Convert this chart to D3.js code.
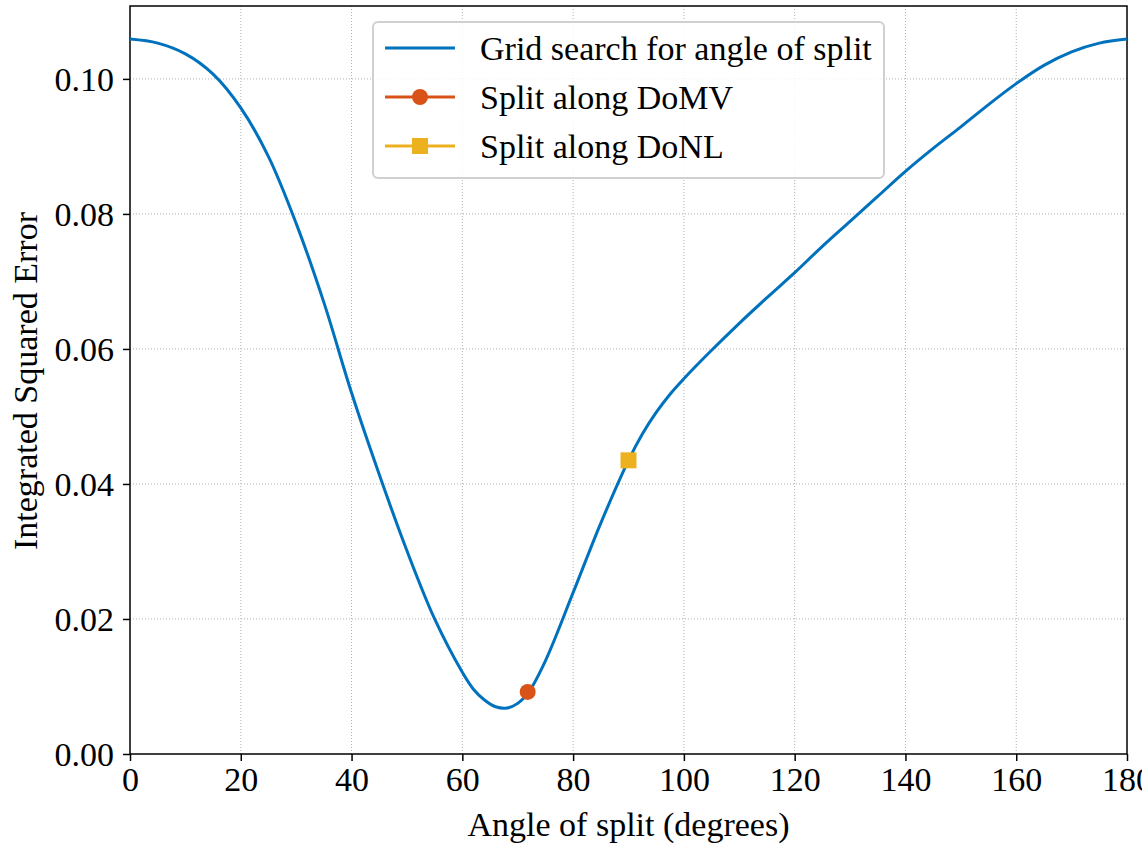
<!DOCTYPE html>
<html>
<head>
<meta charset="utf-8">
<script src="https://cdn.jsdelivr.net/npm/d3@7"></script>
<style>
  html, body { margin: 0; padding: 0; background: #fff; }
  svg { display: block; font-family: "Liberation Serif", "Times New Roman", serif; }
</style>
</head>
<body>
<div id="chart"></div>
<script>
// angle of split (degrees) and integrated squared error from the grid search
var angles = [0, 5, 10, 15, 20, 25, 30, 35, 40, 45, 50, 55, 60, 62, 64, 66, 68, 70, 72, 75, 80, 85, 90, 92.5, 95, 97.5, 100, 105, 110, 115, 120, 125, 130, 135, 140, 145, 150, 155, 160, 165, 170, 175, 180];
var ise = [0.1059, 0.1053, 0.1037, 0.1007, 0.0957, 0.0885, 0.0786, 0.0669, 0.0535, 0.0414, 0.0301, 0.0200, 0.0121, 0.0096, 0.0080, 0.0070, 0.0068, 0.0075, 0.0092, 0.0138, 0.0239, 0.0342, 0.0435, 0.0474, 0.0506, 0.0533, 0.0556, 0.0598, 0.0638, 0.0676, 0.0713, 0.0752, 0.0789, 0.0826, 0.0863, 0.0897, 0.0929, 0.0962, 0.0993, 0.1020, 0.1040, 0.1053, 0.1059];

var domvPoint = [71.8, 0.0092];
var donlPoint = [90, 0.0435];

var xTicks = [0, 20, 40, 60, 80, 100, 120, 140, 160, 180];
var yTicks = [0, 0.02, 0.04, 0.06, 0.08, 0.10];

var legendLabels = ["Grid search for angle of split", "Split along DoMV", "Split along DoNL"];

function drawChart() {

    var blue = "#0072BD", orange = "#D95319", yellow = "#EDB120";

    var width = 1142, height = 846;
    var mLeft = 130, mRight = 1127, mTop = 6, mBottom = 754;

    var svg = d3.select("#chart").append("svg")
        .attr("width", width)
        .attr("height", height);

    var x = d3.scaleLinear().domain([0, 180]).range([mLeft, mRight]);
    var y = d3.scaleLinear().domain([0, 0.1108]).range([mBottom, mTop]);

    // grid
    var grid = svg.append("g")
        .attr("stroke", "#b0b0b0")
        .attr("stroke-width", 1)
        .attr("stroke-dasharray", "1,2");

    grid.selectAll("line.vx")
        .data(xTicks.slice(1, -1))
        .enter().append("line")
        .attr("x1", function(d) { return x(d); })
        .attr("x2", function(d) { return x(d); })
        .attr("y1", mTop)
        .attr("y2", mBottom);

    grid.selectAll("line.hy")
        .data(yTicks.slice(1))
        .enter().append("line")
        .attr("x1", mLeft)
        .attr("x2", mRight)
        .attr("y1", function(d) { return y(d); })
        .attr("y2", function(d) { return y(d); });

    // axes
    var xAxis = svg.append("g")
        .attr("transform", "translate(0," + mBottom + ")")
        .call(d3.axisBottom(x).tickValues(xTicks).tickSize(7).tickPadding(6).tickFormat(d3.format("d")));

    var yAxis = svg.append("g")
        .attr("transform", "translate(" + mLeft + ",0)")
        .call(d3.axisLeft(y).tickValues(yTicks).tickSize(7).tickPadding(9).tickFormat(d3.format(".2f")));

    [xAxis, yAxis].forEach(function(a) {
        a.select(".domain").remove();
        a.selectAll("line").attr("stroke", "#000").attr("stroke-width", 1.5);
        a.selectAll("text")
            .attr("fill", "#000")
            .style("font-family", "'Liberation Serif', 'Times New Roman', serif")
            .style("font-size", "34px");
    });
    yAxis.selectAll("text").attr("dy", "0.34em");

    // frame
    svg.append("rect")
        .attr("x", mLeft)
        .attr("y", mTop)
        .attr("width", mRight - mLeft)
        .attr("height", mBottom - mTop)
        .attr("fill", "none")
        .attr("stroke", "#000")
        .attr("stroke-width", 1.5);

    // curve
    var line = d3.line()
        .x(function(d) { return x(d[0]); })
        .y(function(d) { return y(d[1]); })
        .curve(d3.curveCatmullRom.alpha(0.5));

    svg.append("path")
        .datum(d3.zip(angles, ise))
        .attr("fill", "none")
        .attr("stroke", blue)
        .attr("stroke-width", 3)
        .attr("d", line);

    svg.append("circle")
        .attr("cx", x(domvPoint[0]))
        .attr("cy", y(domvPoint[1]))
        .attr("r", 8)
        .attr("fill", orange);

    svg.append("rect")
        .attr("x", x(donlPoint[0]) - 8)
        .attr("y", y(donlPoint[1]) - 8)
        .attr("width", 16)
        .attr("height", 16)
        .attr("fill", yellow);

    // axis labels
    svg.append("text")
        .attr("x", (mLeft + mRight) / 2)
        .attr("y", 836)
        .attr("text-anchor", "middle")
        .style("font-size", "34px")
        .text("Angle of split (degrees)");

    svg.append("text")
        .attr("transform", "translate(37," + ((mTop + mBottom) / 2 + 1) + ") rotate(-90)")
        .attr("text-anchor", "middle")
        .style("font-size", "34px")
        .text("Integrated Squared Error");

    // legend
    var legend = svg.append("g");

    legend.append("rect")
        .attr("x", 373)
        .attr("y", 22)
        .attr("width", 511)
        .attr("height", 156)
        .attr("rx", 5)
        .attr("fill", "rgba(255,255,255,0.85)")
        .attr("stroke", "#d0d0d0")
        .attr("stroke-width", 2);

    var rowY = [48, 97, 146];
    var rowColor = [blue, orange, yellow];

    var item = legend.selectAll("g.item")
        .data(legendLabels)
        .enter().append("g")
        .attr("transform", function(d, i) { return "translate(0," + rowY[i] + ")"; });

    item.append("line")
        .attr("x1", 385)
        .attr("x2", 455)
        .attr("stroke", function(d, i) { return rowColor[i]; })
        .attr("stroke-width", 3);

    item.filter(function(d, i) { return i === 1; })
        .append("circle")
        .attr("cx", 420)
        .attr("r", 8)
        .attr("fill", orange);

    item.filter(function(d, i) { return i === 2; })
        .append("rect")
        .attr("x", 412)
        .attr("y", -8)
        .attr("width", 16)
        .attr("height", 16)
        .attr("fill", yellow);

    item.append("text")
        .attr("x", 480)
        .attr("dy", "0.34em")
        .style("font-size", "34px")
        .text(function(d) { return d; });
}

drawChart();
</script>
</body>
</html>
